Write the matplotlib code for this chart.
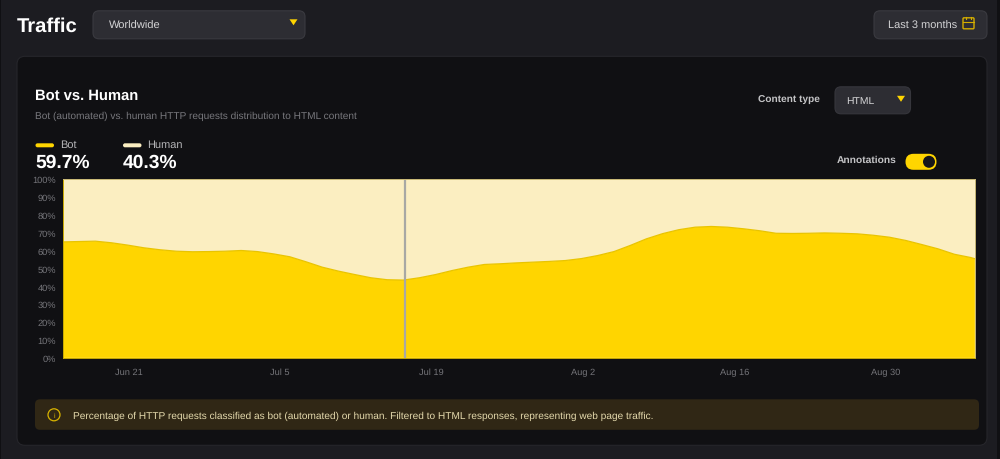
#!/usr/bin/env python3
import matplotlib
matplotlib.use("Agg")
import matplotlib.pyplot as plt
from matplotlib.patches import FancyBboxPatch, Rectangle, Circle, Polygon

plt.rcParams['font.family'] = ['Liberation Sans', 'DejaVu Sans']
plt.rcParams['text.hinting'] = 'no_hinting'

# days since the start of the range (about Jun 15)
days = [0, 1.5, 3, 4.5, 6, 7.5, 9, 10.5, 12, 13.5, 15, 16.5, 18, 19.5, 21,
        22.5, 24, 25.5, 27, 28.5, 30, 31.5, 33, 34.5, 36, 37.5, 39, 40.5, 42,
        43.5, 45, 46.5, 48, 49.5, 51, 52.5, 54, 55.5, 57, 58.5, 60, 61.5, 63,
        64.5, 66, 67.5, 69, 70.5, 72, 73.5, 75, 76.5, 78, 79.5, 81, 82.5, 84, 84.4]
bot = [64.7, 64.9, 65.1, 64.2, 62.9, 61.4, 60.3, 59.5, 59.2, 59.3, 59.5, 59.9, 59.3, 58.0, 56.4,
       53.6, 50.6, 48.4, 46.5, 44.7, 43.6, 43.4, 44.7, 46.5, 48.7, 50.6, 52.1, 52.5, 53.0,
       53.4, 53.8, 54.3, 55.4, 57.1, 59.3, 62.7, 66.4, 69.3, 71.5, 72.9, 73.3, 72.9, 72.0,
       70.9, 69.5, 69.4, 69.5, 69.7, 69.5, 69.2, 68.4, 67.3, 65.5, 63.2, 60.8, 57.8, 56.0, 55.3]
human = [35.3, 35.1, 34.9, 35.8, 37.1, 38.6, 39.7, 40.5, 40.8, 40.7, 40.5, 40.1, 40.7, 42.0, 43.6,
         46.4, 49.4, 51.6, 53.5, 55.3, 56.4, 56.6, 55.3, 53.5, 51.3, 49.4, 47.9, 47.5, 47.0,
         46.6, 46.2, 45.7, 44.6, 42.9, 40.7, 37.3, 33.6, 30.7, 28.5, 27.1, 26.7, 27.1, 28.0,
         29.1, 30.5, 30.6, 30.5, 30.3, 30.5, 30.8, 31.6, 32.7, 34.5, 36.8, 39.2, 42.2, 44.0, 44.7]
date_ticks = [6.1, 20.1, 34.12, 48.12, 62.15, 76.1]
date_labels = ["Jun 21", "Jul 5", "Jul 19", "Aug 2", "Aug 16", "Aug 30"]
pct_ticks = [0, 10, 20, 30, 40, 50, 60, 70, 80, 90, 100]
annotation_day = 31.65

PAGE = "#1c1c21"
CARD = "#101013"
PILL = "#2d2d33"
YELLOW = "#ffd500"
CREAM = "#fbeec1"

fig = plt.figure(figsize=(10, 4.6), dpi=100, facecolor=PAGE)

# page furniture, in pixel coordinates
ui = fig.add_axes([0, 0, 1, 1])
ui.set_xlim(0, 1000)
ui.set_ylim(459.2, -0.8)
ui.axis('off')


def box(x, y, w, h, r, color, edge='none'):
    ui.add_patch(FancyBboxPatch((x + r, y + r), w - 2 * r, h - 2 * r,
                                boxstyle=f"round,pad={r}", fc=color, ec=edge, lw=0.8))


def caret(x, y):
    ui.add_patch(Polygon([(x - 4, y - 3), (x + 4, y - 3), (x, y + 3)], color=YELLOW, lw=0))


ui.add_patch(Rectangle((0, -1), 1, 462, color="#101013", lw=0))
ui.add_patch(Rectangle((997, -1), 3, 462, color="#101013", lw=0))

ui.text(16.5, 26, "Traffic", color="white", fontsize=14.6, fontweight='bold', va='center')
box(93, 11, 212, 28, 6, PILL, "#3a3a40")
ui.text(108.5, 25, "Worldwide", color="#d4d4d6", fontsize=8, va='center')
caret(293.5, 22.5)
box(874, 11, 113, 28, 6, PILL, "#3a3a40")
ui.text(888, 25, "Last 3 months", color="#d4d4d6", fontsize=7.9, va='center')
# calendar icon
ui.add_patch(FancyBboxPatch((964, 19), 9, 9, boxstyle="round,pad=1", fc='none', ec="#d4ad00", lw=1))
ui.plot([963, 974], [22, 22], color="#d4ad00", lw=0.8)
ui.plot([966, 966], [17, 19], color="#d4ad00", lw=0.8)
ui.plot([971, 971], [17, 19], color="#d4ad00", lw=0.8)

box(17, 56.5, 970, 389, 8, CARD, "#26262b")

ui.text(35, 95, "Bot vs. Human", color="white", fontsize=10.6, fontweight='bold', va='center')
ui.text(35, 115.5, "Bot (automated) vs. human HTTP requests distribution to HTML content",
        color="#77777c", fontsize=7.3, va='center')

box(35.5, 143.5, 18.5, 4, 2, YELLOW)
ui.text(60, 144.5, "Bot", color="#b5b5b8", fontsize=7.9, va='center')
ui.text(35, 162, "59.7%", color="white", fontsize=13.9, fontweight='bold', va='center')
box(123, 143.5, 18.5, 4, 2, CREAM)
ui.text(147.5, 144.5, "Human", color="#b5b5b8", fontsize=7.9, va='center')
ui.text(122.5, 162, "40.3%", color="white", fontsize=13.9, fontweight='bold', va='center')

ui.text(757.5, 99.5, "Content type", color="#c4c4c6", fontsize=7.3, fontweight='bold', va='center')
box(835, 87, 75.5, 27, 6, PILL, "#36363c")
ui.text(845.7, 100.5, "HTML", color="#d4d4d6", fontsize=7.5, va='center')
caret(901, 99)

ui.text(837, 159.5, "Annotations", color="#c4c4c6", fontsize=7.4, fontweight='bold', va='center')
box(905.5, 154, 31, 16, 8, YELLOW)
ui.add_patch(Circle((929, 162), 6, fc="#16161a", ec='none'))

box(35, 399.5, 944, 30.5, 5, "#302715")
ui.add_patch(Circle((54, 415), 6, fc='none', ec="#d9b400", lw=0.9))
ui.text(54, 415, "i", color="#d9b400", fontsize=5, ha='center', va='center')
ui.text(73, 415.5, "Percentage of HTTP requests classified as bot (automated) or human. "
        "Filtered to HTML responses, representing web page traffic.",
        color="#e4d9ac", fontsize=7.25, va='center')

# the chart itself
ax = fig.add_axes([62.9 / 1000, (460 - 358.9) / 460, 912 / 1000, 179.3 / 460])
ax.stackplot(days, bot, human, colors=[YELLOW, CREAM], lw=0)
ax.plot(days, bot, color="#e9c400", lw=0.9)
ax.axvline(annotation_day, color="#a8a8a4", lw=1.6)
ax.set_xlim(0, 84.4)
ax.set_ylim(0, 100)
ax.set_xticks(date_ticks, date_labels)
ax.set_yticks(pct_ticks, [f"{p}%" for p in pct_ticks])
ax.tick_params(axis='both', length=0, labelsize=6.7, colors="#75757a")
ax.tick_params(axis='x', pad=7)
ax.tick_params(axis='y', pad=5)
for name, spine in ax.spines.items():
    spine.set_color("#c8a800" if name in ('left', 'bottom') else "#c8b875")
    spine.set_linewidth(0.7)

fig.savefig("out.png", dpi=100, facecolor=fig.get_facecolor())
